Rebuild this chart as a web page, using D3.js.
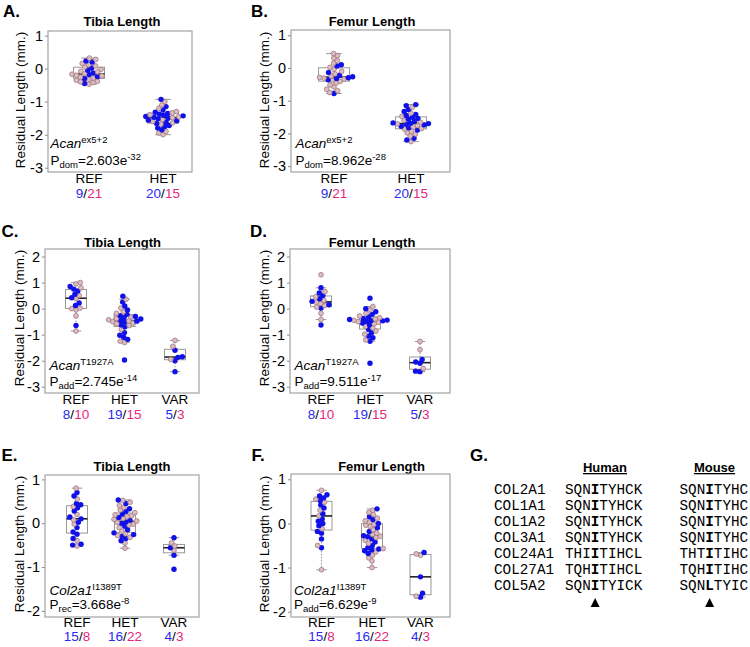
<!DOCTYPE html>
<html><head><meta charset="utf-8">
<script src="https://cdn.jsdelivr.net/npm/d3@7"></script>
<style>body{margin:0;background:#fff;overflow:hidden}</style>
</head><body>
<script>
// ---------------- DATA ----------------
const catsTwo = ["REF", "HET"];
const catsThree = ["REF", "HET", "VAR"];
const titles = ["Tibia Length", "Femur Length", "Tibia Length", "Femur Length", "Tibia Length", "Femur Length"];
const panelLetters = ["A.", "B.", "C.", "D.", "E.", "F."];
const ticksAB = [1, 0, -1, -2, -3];
const ticksCD = [2, 1, 0, -1, -2, -3];
const ticksEF = [1, 0, -1, -2];

// Panel A – Tibia, Acan ex5+2 (blue / pink groups)
const aRefBlue = [0.23, 0.20, 0.02, -0.05, -0.13, -0.18, -0.24, -0.30, -0.45];
const aRefPink = [-0.47, -0.42, -0.40, -0.38, -0.35, -0.32, -0.28, -0.26, -0.22, -0.20, -0.17, -0.15, -0.10, -0.08, -0.02, 0.05, 0.08, 0.12, 0.16, 0.28, 0.32];
const aHetBlue = [-0.93, -1.15, -1.25, -1.32, -1.38, -1.41, -1.45, -1.47, -1.50, -1.52, -1.56, -1.58, -1.62, -1.66, -1.72, -1.75, -1.80, -1.85, -1.36, -1.43];
const aHetPink = [-2.00, -1.95, -1.90, -1.68, -1.64, -1.60, -1.54, -1.48, -1.46, -1.40, -1.34, -1.30, -1.20, -1.10, -1.00];
// Panel B – Femur, Acan ex5+2
const bRefBlue = [0.10, 0.06, -0.14, -0.22, -0.27, -0.30, -0.32, -0.36, -0.78];
const bRefPink = [-0.75, -0.70, -0.65, -0.58, -0.52, -0.46, -0.41, -0.38, -0.34, -0.31, -0.29, -0.25, -0.18, -0.10, -0.04, 0.02, 0.15, 0.22, 0.30, 0.38, 0.44];
const bHetBlue = [-2.20, -2.15, -1.90, -1.83, -1.78, -1.74, -1.72, -1.70, -1.69, -1.68, -1.63, -1.57, -1.54, -1.51, -1.45, -1.42, -1.33, -1.27, -1.15, -1.12];
const bHetPink = [-2.25, -2.08, -2.02, -1.98, -1.94, -1.87, -1.85, -1.80, -1.76, -1.71, -1.66, -1.60, -1.48, -1.38, -1.20];
// Panel C – Tibia, Acan T1927A
const cRefBlue = [0.85, 0.75, 0.68, 0.55, 0.42, 0.22, 0.12, -0.65];
const cRefPink = [-0.86, -0.28, -0.05, 0.00, 0.02, 0.38, 0.50, 0.80, 0.95, 1.00];
const cHetBlue = [0.48, 0.25, 0.10, -0.05, -0.22, -0.27, -0.30, -0.35, -0.40, -0.45, -0.48, -0.52, -0.62, -0.70, -0.92, -1.02, -1.10, -1.18, -1.97];
const cHetPink = [0.36, 0.02, -0.12, -0.18, -0.32, -0.38, -0.43, -0.47, -0.50, -0.55, -0.58, -0.65, -0.80, -1.25, -1.30];
const cVarBlue = [-2.42, -2.00, -1.87, -1.85, -1.60];
const cVarPink = [-1.95, -1.45, -1.22];
// Panel D – Femur, Acan T1927A
const dRefBlue = [0.80, 0.60, 0.50, 0.38, 0.28, 0.15, 0.02, -0.63];
const dRefPink = [-0.42, -0.18, 0.06, 0.12, 0.20, 0.24, 0.32, 0.45, 0.65, 1.30];
const dHetBlue = [0.40, 0.00, -0.12, -0.22, -0.32, -0.38, -0.42, -0.44, -0.46, -0.47, -0.49, -0.55, -0.62, -0.80, -0.92, -1.05, -1.12, -1.25, -2.10];
const dHetPink = [0.08, -0.05, -0.18, -0.28, -0.35, -0.40, -0.45, -0.50, -0.52, -0.58, -0.68, -0.74, -0.86, -0.98, -1.20];
const dVarBlue = [-2.42, -2.40, -2.10, -2.05, -1.95];
const dVarPink = [-2.30, -1.58, -1.26];
// Panel E – Tibia, Col2a1 I1389T
const eRefBlue = [0.70, 0.62, 0.45, 0.42, 0.35, 0.28, 0.14, 0.10, 0.02, -0.10, -0.20, -0.25, -0.35, -0.48, -0.50];
const eRefPink = [0.80, 0.55, 0.38, 0.20, 0.08, -0.02, -0.40, -0.52];
const eHetBlue = [0.53, 0.45, 0.33, 0.27, 0.21, 0.13, 0.07, 0.03, 0.00, -0.07, -0.15, -0.22, -0.26, -0.30, -0.35, -0.40];
const eHetPink = [-0.57, -0.45, -0.32, -0.28, -0.24, -0.18, -0.10, -0.04, -0.02, 0.02, 0.05, 0.09, 0.11, 0.15, 0.17, 0.19, 0.24, 0.30, 0.36, 0.40, 0.48, 0.52];
const eVarBlue = [-1.05, -0.73, -0.56, -0.33];
const eVarPink = [-0.62, -0.52, -0.45];
// Panel F – Femur, Col2a1 I1389T
const fRefBlue = [0.65, 0.62, 0.58, 0.52, 0.42, 0.35, 0.22, 0.10, 0.05, 0.00, -0.05, -0.18, -0.22, -0.35, -0.55];
const fRefPink = [0.75, 0.55, 0.48, 0.30, 0.17, -0.12, -0.50, -1.05];
const fHetBlue = [0.33, 0.15, 0.09, 0.00, -0.10, -0.18, -0.28, -0.30, -0.35, -0.42, -0.50, -0.55, -0.58, -0.60, -0.62, -0.68];
const fHetPink = [-1.00, -0.85, -0.78, -0.72, -0.65, -0.57, -0.45, -0.38, -0.32, -0.29, -0.25, -0.22, -0.14, -0.07, -0.04, -0.02, 0.03, 0.06, 0.12, 0.20, 0.25, 0.30];
const fVarBlue = [-1.67, -1.58, -1.21, -0.66];
const fVarPink = [-1.65, -0.72, -0.69];

// annotation text: [gene, allele, test, p-mantissa, p-exponent]
const annA = ["Acan", "ex5+2", "dom", "2.603e", "-32"];
const annB = ["Acan", "ex5+2", "dom", "8.962e", "-28"];
const annC = ["Acan", "T1927A", "add", "2.745e", "-14"];
const annD = ["Acan", "T1927A", "add", "9.511e", "-17"];
const annE = ["Col2a1", "I1389T", "rec", "3.668e", "-8"];
const annF = ["Col2a1", "I1389T", "add", "6.629e", "-9"];

// Panel G – alignment
const alignGenes = ["COL2A1", "COL1A1", "COL1A2", "COL3A1", "COL24A1", "COL27A1", "COL5A2"];
const humanSeqs = ["SQNITYHCK", "SQNITYHCK", "SQNITYHCK", "SQNITYHCK", "THIITIHCL", "TQHITIHCL", "SQNITYICK"];
const mouseSeqs = ["SQNITYHC", "SQNITYHC", "SQNITYHC", "SQNITYHC", "THTITIHC", "TQHITIHC", "SQNLTYIC"];
const alignHeaders = ["Human", "Mouse"];

// ---------------- STYLE / LAYOUT ----------------
const FONT = "'Liberation Sans', Arial, Helvetica, sans-serif";
const MONO = "'Courier New', 'Nimbus Mono PS', 'FreeMono', 'Liberation Mono', monospace";
const BLUE = "#1010e8", PINK_FILL = "#dcbcc0", PINK_STROKE = "#a07a82";
const TXT_BLUE = "#2a2af2", TXT_PINK = "#e4287e";

const svg = d3.select("body").append("svg").attr("width", 750).attr("height", 647)
  .style("background", "#fff");

const panels = [
  {letter: panelLetters[0], title: titles[0], box: [48, 192, 31, 172], dom: [1.14, -3.13], cats: catsTwo, cx: [89, 163], ticks: ticksAB, bw: 31, ann: annA,
   groups: [[aRefBlue, aRefPink], [aHetBlue, aHetPink]], L: [3, 17], T: [122, 26], Y: [24.5, 100], lab: [183, 198], a: [50.5, 148, 165]},
  {letter: panelLetters[1], title: titles[1], box: [291, 450, 30, 172], dom: [1.16, -3.18], cats: catsTwo, cx: [334, 411], ticks: ticksAB, bw: 31, ann: annB,
   groups: [[bRefBlue, bRefPink], [bHetBlue, bHetPink]], L: [251, 17], T: [372, 26], Y: [269, 100], lab: [183, 198], a: [295.5, 148, 164.5]},
  {letter: panelLetters[2], title: titles[2], box: [45, 199, 249, 393], dom: [2.29, -3.24], cats: catsThree, cx: [76, 124.5, 175], ticks: ticksCD, bw: 21, ann: annC,
   groups: [[cRefBlue, cRefPink], [cHetBlue, cHetPink], [cVarBlue, cVarPink]], L: [1.5, 236.5], T: [122.5, 246.5], Y: [23.5, 318], lab: [403.5, 418.5], a: [49.5, 369.5, 386]},
  {letter: panelLetters[3], title: titles[3], box: [290, 450, 249, 393], dom: [2.29, -3.24], cats: catsThree, cx: [321, 370, 420], ticks: ticksCD, bw: 21, ann: annD,
   groups: [[dRefBlue, dRefPink], [dHetBlue, dHetPink], [dVarBlue, dVarPink]], L: [250, 236.5], T: [372, 246.5], Y: [269, 318], lab: [403.5, 418.5], a: [294.5, 370, 386]},
  {letter: panelLetters[4], title: titles[4], box: [45, 199, 475, 617], dom: [1.1, -2.14], cats: catsThree, cx: [77, 125, 174], ticks: ticksEF, bw: 21, ann: annE,
   groups: [[eRefBlue, eRefPink], [eHetBlue, eHetPink], [eVarBlue, eVarPink]], L: [1.5, 461], T: [132, 470.5], Y: [23.5, 544], lab: [627, 641], a: [49.5, 595, 609]},
  {letter: panelLetters[5], title: titles[5], box: [291, 450, 474, 617], dom: [1.12, -2.12], cats: catsThree, cx: [321.5, 372, 420.5], ticks: ticksEF, bw: 21, ann: annF,
   groups: [[fRefBlue, fRefPink], [fHetBlue, fHetPink], [fVarBlue, fVarPink]], L: [251.5, 460.5], T: [381.5, 470.5], Y: [269, 544], lab: [627, 641], a: [294, 595, 609]}
];

const R = 2.7;

function swarm(points, y) {
  const d = 1.65 * R;
  const sorted = points.map(p => Object.assign({}, p, {py: y(p.v)})).sort((a, b) => b.py - a.py);
  const placed = [];
  for (const p of sorted) {
    const near = placed.filter(q => Math.abs(q.py - p.py) < d);
    const cands = [0];
    for (const q of near) {
      const dx = Math.sqrt(d * d - (q.py - p.py) ** 2);
      cands.push(q.dx + dx, q.dx - dx);
    }
    cands.sort((a, b) => Math.abs(a) - Math.abs(b) || a - b);
    for (const c of cands) {
      if (near.every(q => (q.dx - c) ** 2 + (q.py - p.py) ** 2 >= d * d - 1e-6)) { p.dx = c; break; }
    }
    placed.push(p);
  }
  return placed;
}

function boxStats(vals) {
  const s = vals.slice().sort(d3.ascending);
  const q1 = d3.quantile(s, 0.25), med = d3.quantile(s, 0.5), q3 = d3.quantile(s, 0.75);
  const iqr = q3 - q1;
  const lo = d3.min(s.filter(v => v >= q1 - 1.5 * iqr));
  const hi = d3.max(s.filter(v => v <= q3 + 1.5 * iqr));
  return {q1, med, q3, lo, hi};
}

panels.forEach(p => {
  const g = svg.append("g");
  const [x0, x1, y0, y1] = p.box;
  const y = d3.scaleLinear().domain(p.dom).range([y0, y1]);
  const x = d3.scaleOrdinal().domain(p.cats).range(p.cx);

  g.append("text").attr("x", p.L[0]).attr("y", p.L[1]).text(p.letter)
    .attr("font-family", FONT).attr("font-weight", "bold").attr("font-size", 17);
  g.append("text").attr("x", p.T[0]).attr("y", p.T[1]).text(p.title).attr("text-anchor", "middle")
    .attr("font-family", FONT).attr("font-weight", "bold").attr("font-size", 13);

  g.append("text").attr("transform", `translate(${p.Y[0]},${p.Y[1]}) rotate(-90)`)
    .attr("text-anchor", "middle").attr("font-family", FONT).attr("font-size", 13.5)
    .text("Residual Length (mm.)");

  const ax = g.append("g").attr("transform", `translate(${x0},0)`)
    .call(d3.axisLeft(y).tickValues(p.ticks).tickSize(3).tickPadding(2).tickFormat(d => String(d)));
  ax.select(".domain").remove();
  ax.selectAll(".tick line").attr("stroke", "#888");
  ax.selectAll(".tick text").attr("font-family", FONT).attr("font-size", 14.5).attr("fill", "#000");

  g.append("rect").attr("x", x0).attr("y", y0).attr("width", x1 - x0).attr("height", y1 - y0)
    .attr("fill", "none").attr("stroke", "#a3a3a3").attr("stroke-width", 1.2);

  p.cats.forEach((c, i) => {
    const [blue, pink] = p.groups[i];
    const all = blue.concat(pink);
    const st = boxStats(all);
    const cx = x(c);
    const bw = p.bw;
    const gb = g.append("g");
    gb.append("line").attr("x1", cx).attr("x2", cx).attr("y1", y(st.q3)).attr("y2", y(st.hi))
      .attr("stroke", "#999").attr("stroke-dasharray", "1.5,1.5");
    gb.append("line").attr("x1", cx).attr("x2", cx).attr("y1", y(st.q1)).attr("y2", y(st.lo))
      .attr("stroke", "#999").attr("stroke-dasharray", "1.5,1.5");
    [st.hi, st.lo].forEach(v => gb.append("line").attr("x1", cx - bw / 4).attr("x2", cx + bw / 4)
      .attr("y1", y(v)).attr("y2", y(v)).attr("stroke", "#999"));
    gb.append("rect").attr("x", cx - bw / 2).attr("width", bw).attr("y", y(st.q3)).attr("height", y(st.q1) - y(st.q3))
      .attr("fill", "#fff").attr("stroke", "#999");
    gb.append("line").attr("x1", cx - bw / 2).attr("x2", cx + bw / 2).attr("y1", y(st.med)).attr("y2", y(st.med))
      .attr("stroke", "#222").attr("stroke-width", 1.6);

    const pts = blue.map(v => ({v, c: "b"})).concat(pink.map(v => ({v, c: "p"})));
    const placed = swarm(pts, y);
    g.append("g").selectAll("circle").data(placed).join("circle")
      .attr("cx", d => cx + d.dx).attr("cy", d => d.py).attr("r", d => d.c === "b" ? R : R - 0.3)
      .attr("fill", d => d.c === "b" ? BLUE : PINK_FILL)
      .attr("stroke", d => d.c === "b" ? "none" : PINK_STROKE).attr("stroke-width", 0.8);

    g.append("text").attr("x", cx).attr("y", p.lab[0]).attr("text-anchor", "middle")
      .attr("font-family", FONT).attr("font-size", 13.5).text(c);
    const t = g.append("text").attr("x", cx).attr("y", p.lab[1]).attr("text-anchor", "middle")
      .attr("font-family", FONT).attr("font-size", 13.5);
    t.append("tspan").attr("fill", TXT_BLUE).text(blue.length);
    t.append("tspan").attr("fill", "#000").text("/");
    t.append("tspan").attr("fill", TXT_PINK).text(pink.length);
  });

  const a1 = g.append("text").attr("x", p.a[0]).attr("y", p.a[1]).attr("font-family", FONT).attr("font-size", 13.5);
  a1.append("tspan").attr("font-style", "italic").text(p.ann[0]);
  a1.append("tspan").attr("font-size", 9.5).attr("dy", -5).text(p.ann[1]);
  const a2 = g.append("text").attr("x", p.a[0]).attr("y", p.a[2]).attr("font-family", FONT).attr("font-size", 13.5);
  a2.append("tspan").text("P");
  a2.append("tspan").attr("font-size", 9.5).attr("dy", 3).text(p.ann[2]);
  a2.append("tspan").attr("dy", -3).text("=" + p.ann[3]);
  a2.append("tspan").attr("font-size", 9.5).attr("dy", -5).text(p.ann[4]);
});

// ---------------- PANEL G ----------------
const gG = svg.append("g");
gG.append("text").attr("x", 470).attr("y", 460.5).text("G.")
  .attr("font-family", FONT).attr("font-weight", "bold").attr("font-size", 17);
const charW = 8.6, seqFont = 14.3;
const geneX = 494, humanX = 565, mouseX = 679.5, row0 = 494, rowH = 16;
[[alignHeaders[0], 605], [alignHeaders[1], 714.5]].forEach(([h, hx]) => {
  gG.append("text").attr("x", hx).attr("y", 472).attr("text-anchor", "middle")
    .attr("font-family", FONT).attr("font-weight", "bold").attr("font-size", 13).attr("text-decoration", "underline").text(h);
});
alignGenes.forEach((gn, i) => {
  const yy = row0 + i * rowH;
  gG.append("text").attr("x", geneX).attr("y", yy).attr("font-family", MONO).attr("font-size", seqFont).text(gn);
  [[humanSeqs[i], humanX], [mouseSeqs[i], mouseX]].forEach(([seq, sx]) => {
    const t = gG.append("text").attr("x", sx).attr("y", yy).attr("font-family", MONO).attr("font-size", seqFont);
    t.append("tspan").text(seq.slice(0, 3));
    t.append("tspan").attr("font-weight", "bold").text(seq[3]);
    t.append("tspan").text(seq.slice(4));
  });
});
[humanX, mouseX].forEach(sx => {
  const cx = sx + 3.5 * charW, cy = 603;
  gG.append("path").attr("d", `M${cx - 4.5},${cy + 4} L${cx + 4.5},${cy + 4} L${cx},${cy - 5} Z`).attr("fill", "#000");
});
</script>
</body></html>
